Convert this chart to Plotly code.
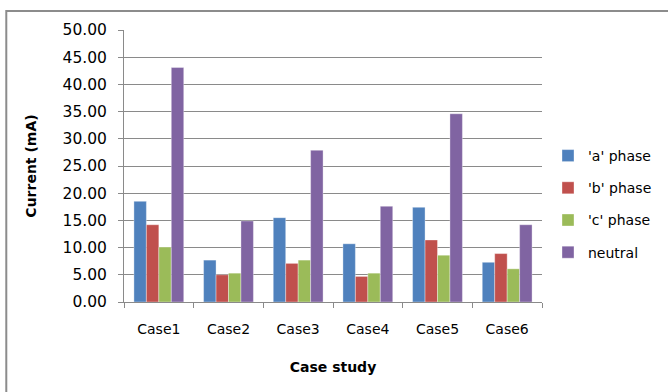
import plotly.graph_objects as go

# Measured currents per case study (mA)
cases = ["Case1", "Case2", "Case3", "Case4", "Case5", "Case6"]
phase_a = [18.5, 7.7, 15.5, 10.7, 17.4, 7.3]
phase_b = [14.2, 5.0, 7.1, 4.7, 11.4, 8.9]
phase_c = [10.1, 5.3, 7.7, 5.3, 8.6, 6.1]
neutral = [43.1, 14.9, 27.9, 17.6, 34.6, 14.2]

series = [
    ("'a' phase", phase_a, "#4F81BD"),
    ("'b' phase", phase_b, "#C0504D"),
    ("'c' phase", phase_c, "#9BBB59"),
    ("neutral", neutral, "#8064A2"),
]

y_ticks = [0, 5, 10, 15, 20, 25, 30, 35, 40, 45, 50]

FONT = "DejaVu Sans"
GRID = "#8a8a8a"

fig = go.Figure()
for name, vals, color in series:
    fig.add_trace(go.Bar(
        name=name, x=cases, y=vals, legendgroup=name,
        marker=dict(color=color, line=dict(color="rgba(255,255,255,0.35)", width=1)),
    ))

# Plot area spans roughly x 124..543 px, y 30..302 px
L, R, T, B = 124, 125, 30, 90
W, H = 668, 392
pw, ph = W - L - R, H - T - B

fig.update_layout(
    width=W, height=H,
    margin=dict(l=L, r=R, t=T, b=B),
    paper_bgcolor="white", plot_bgcolor="white",
    barmode="group", bargap=0.285, bargroupgap=0,
    font=dict(family=FONT, size=14, color="#000000"),
    showlegend=True,
    legend=dict(
        x=(548 - L) / pw, xanchor="left",
        y=(H - B - 204) / ph, yanchor="middle",
        font=dict(family=FONT, size=14, color="#000000"),
        tracegroupgap=11, itemwidth=30,
        bgcolor="rgba(0,0,0,0)",
    ),
    xaxis=dict(
        showline=True, linecolor=GRID, linewidth=1,
        ticks="outside", ticklen=5, tickcolor=GRID, tickson="boundaries",
        ticklabelstandoff=14,
        showgrid=False,
        title=dict(text="<b>Case study</b>", font=dict(family=FONT, size=14), standoff=26),
        tickfont=dict(family=FONT, size=14),
    ),
    yaxis=dict(
        range=[0, 50], tickvals=y_ticks,
        ticktext=[f"{v:.2f}" for v in y_ticks],
        showline=True, linecolor=GRID, linewidth=1,
        ticks="outside", ticklen=5, tickcolor=GRID,
        ticklabelstandoff=8,
        showgrid=True, gridcolor=GRID, gridwidth=1,
        zeroline=False,
        title=dict(text="<b>Current (mA)</b>", font=dict(family=FONT, size=14), standoff=22),
        tickfont=dict(family=FONT, size=15.5),
    ),
    shapes=[dict(
        type="rect", xref="paper", yref="paper",
        x0=(6 - L) / pw, x1=2.0,
        y0=-2.0, y1=(H - B - 11) / ph,
        line=dict(color="#8c8c8c", width=2), fillcolor="rgba(0,0,0,0)",
        layer="below",
    )],
)

fig.write_html("out.html")
